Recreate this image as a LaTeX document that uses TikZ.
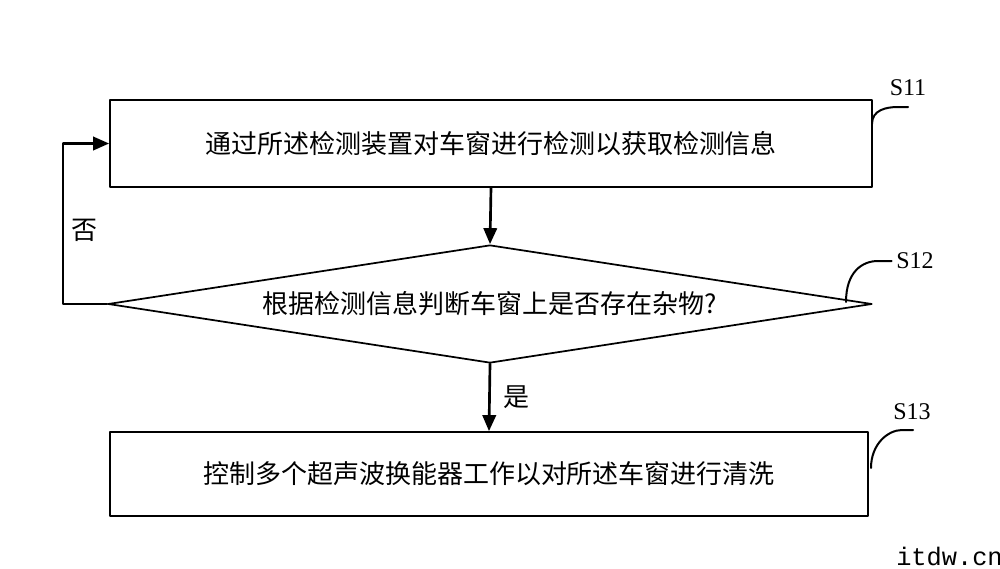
\documentclass[tikz,border=0pt]{standalone}
\usepackage{fontspec}
\setmainfont{Liberation Serif}
\newfontfamily\cjk{Noto Sans CJK SC}
\newfontfamily\wmfont{Liberation Mono}
\usetikzlibrary{shapes.geometric,arrows.meta}

\begin{document}
\begin{tikzpicture}[x=0.75pt,y=-0.75pt,>={Stealth[length=12pt,width=10pt,inset=0pt]},
	font=\cjk\fontsize{19.5pt}{22pt}\selectfont, line join=round, line cap=round]
	\tikzset{stepbox/.style={draw, line width=1.3pt, rectangle, inner sep=0pt,
			minimum width=571.5pt, minimum height=64pt},
		judgebox/.style={draw, line width=1.3pt, diamond, aspect=6.5, inner sep=0pt,
			minimum width=573pt, minimum height=88.5pt},
		flow/.style={->, line width=2pt},
		tag/.style={font=\rmfamily\fontsize{18pt}{20pt}\selectfont},
		lead/.style={line width=1.5pt}}
	\useasboundingbox (0,0) rectangle (1000,568);
	% steps
	\node[stepbox, minimum height=65pt] (detect) at (491,143.5) {通过所述检测装置对车窗进行检测以获取检测信息};
	\node[judgebox] (judge) at (490,304) {根据检测信息判断车窗上是否存在杂物?};
	\node[stepbox, minimum width=568.5pt, minimum height=63pt] (clean) at (489,474) {控制多个超声波换能器工作以对所述车窗进行清洗};
	% arrows
	\draw[flow] (detect.south) -- (judge.north);
	\draw[flow] (judge.south) -- node[right=6pt] (yes) {是} (clean.north);
	\draw[flow] (judge.west) -- ++(-44,0) coordinate (back) |- (detect.west);
	\node (no) at (84,230) {否};
	% step labels
	\node[tag] (s11) at (908,88) {S11};
	\node[tag] (s12) at (915,261) {S12};
	\node[tag] (s13) at (912,412) {S13};
	\draw[lead] (872,124) .. controls (872,110) and (886,107) .. (898,107) -- (908,107);
	\draw[lead] (846,302) .. controls (846,272) and (862,261) .. (878,261) -- (s12.west);
	\draw[lead] (871,468) .. controls (871,444) and (888,430) .. (902,430) -- (913,430);
	% mark
	\node[font=\wmfont\fontsize{19pt}{20pt}\selectfont, anchor=base west, inner sep=0pt] (mark) at (896,565) {itdw.cn};
\end{tikzpicture}
\end{document}
